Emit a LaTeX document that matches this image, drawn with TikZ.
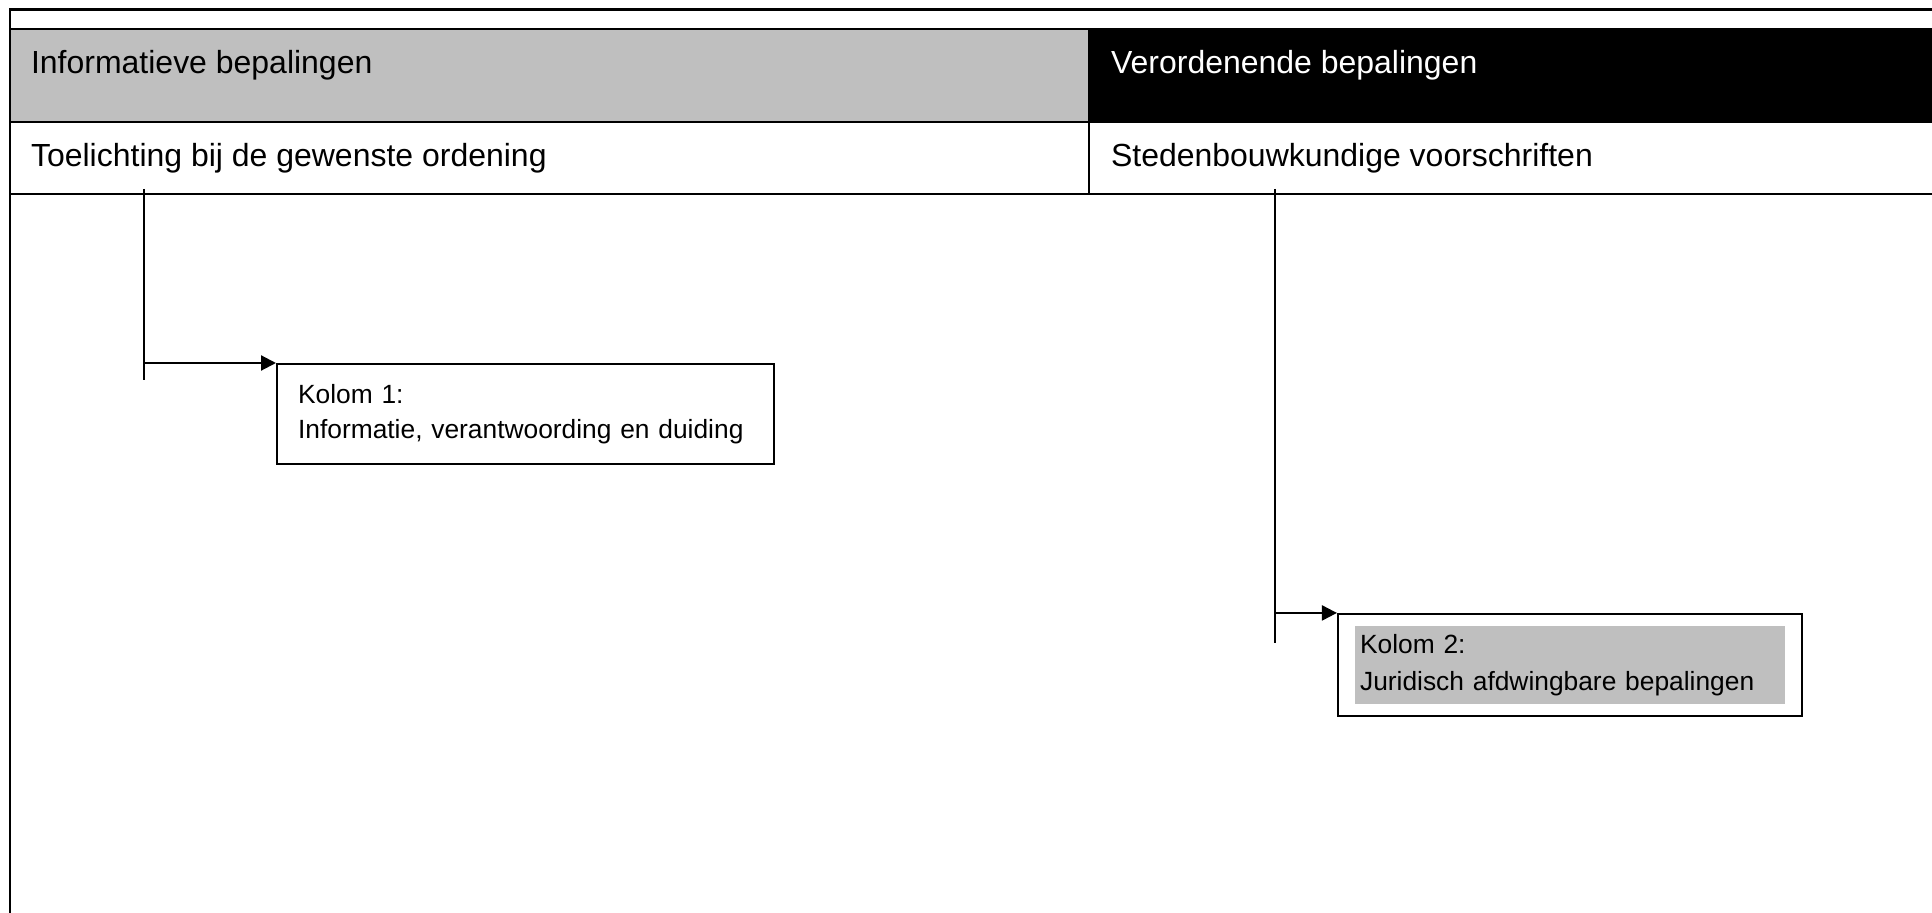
\documentclass[tikz,border=0pt]{standalone}
\usepackage{fontspec}
\setmainfont{Liberation Sans}
\usetikzlibrary{arrows.meta,fit,positioning}
\tikzset{%
  kop/.style={anchor=base west,inner sep=0pt,font=\fontsize{9.1pt}{11pt}\selectfont,text=#1},
  kop/.default=black,
  kolom/.style={draw,align=left,inner ysep=0pt,font=\fontsize{7.5pt}{#1}\selectfont},
  kolom/.default=0.35cm,
  tak/.style={-{Triangle[length=1.5mm,width=1.5mm]}}
}
\definecolor{c0}{rgb}{0.75,0.75,0.75}

\begin{document}
\begin{tikzpicture}[line width=0.6pt]
  \useasboundingbox (0,0) rectangle (19.32,-9.13);
  \coordinate (p0) at (0.10,-0.29);
  \coordinate (p1) at (10.89,-1.22);
  \coordinate (p2) at (19.32,-1.94);
  \fill[c0] (p0) rectangle (p1);
  \fill[black] (p0 -| p1) rectangle (p1 -| p2);
  %% kader
  \draw (19.32,-0.095) -- (0.10,-0.095) -- (0.10,-9.13);
  \draw (p0) -- (p0 -| p2);
  \draw (0.10,-1.22) -- (19.32,-1.22);
  \draw (0.10,-1.94) -- (p2);
  \draw (10.89,-0.29) -- (10.89,-1.94);
  %% koppen
  \node[kop] (info) at (0.30,-0.74) {Informatieve bepalingen};
  \node[kop=white] (veror) at (11.10,-0.74) {Verordenende bepalingen};
  \node[kop] (toel) at (0.30,-1.67) {Toelichting bij de gewenste ordening};
  \node[kop] (sted) at (11.10,-1.67) {Stedenbouwkundige voorschriften};
  %% kolommen
  \node[kolom,anchor=north west,minimum width=4.97cm,minimum height=1cm,
    text width=4.55cm,inner xsep=0.21cm] (k1) at (2.76,-3.63)
    {Kolom 1:\\Informatie, verantwoording en duiding};
  \node[kolom=0.37cm,draw=none,fill=c0,anchor=north west,minimum height=0.78cm,
    text width=4.20cm,inner xsep=0.05cm] (k2) at (13.54,-6.25)
    {Kolom 2:\\Juridisch afdwingbare bepalingen};
  \node[draw,fit=(k2),inner xsep=0.16cm,inner ysep=0.11cm] (k2rand) {};
  %% takken
  \coordinate (t1) at (1.44,-1.89);
  \coordinate (t1e) at (1.44,-3.80);
  \coordinate (s1) at (t1 |- k1.north west);
  \draw (t1) -- (t1e);
  \draw[tak] (s1) -- (k1.north west);
  \coordinate (t2) at (12.75,-1.89);
  \coordinate (t2e) at (12.75,-6.43);
  \coordinate (s2) at (t2 |- k2rand.north west);
  \draw (t2) -- (t2e);
  \draw[tak] (s2) -- (k2rand.north west);
\end{tikzpicture}
\end{document}
